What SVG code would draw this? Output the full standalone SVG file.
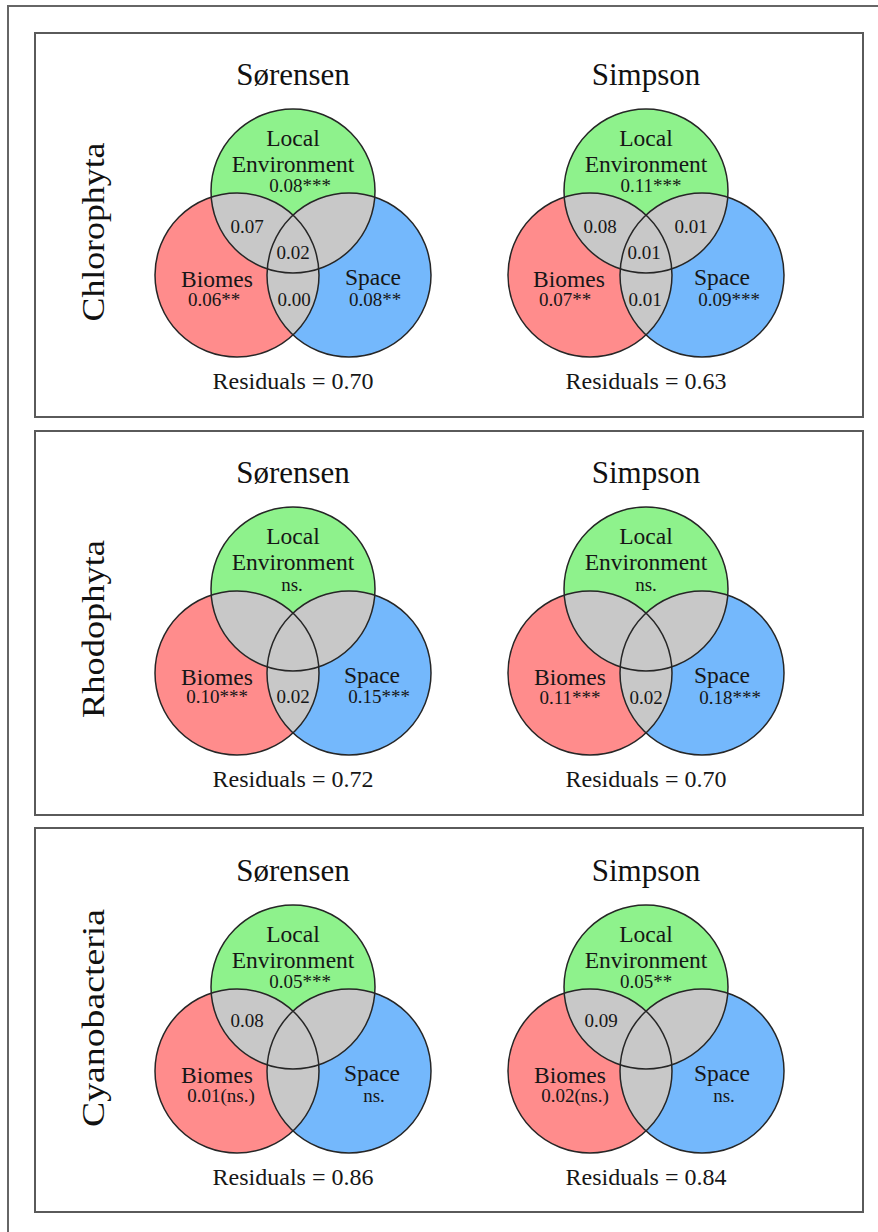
<svg xmlns="http://www.w3.org/2000/svg" width="878" height="1232" viewBox="0 0 878 1232">
<style>
text{font-family:"Liberation Serif","Times New Roman",serif;fill:#161616;text-anchor:middle}
.title{font-size:31px;fill:#111}
.lab{font-size:23.5px}
.num{font-size:19px}
.res{font-size:24px}
.side{font-size:31px;fill:#111}
.frame{fill:none;stroke:#666;stroke-width:2}
.panel{fill:#fff;stroke:#5a5a5a;stroke-width:2}
.g{fill:#8ef28c}
.r{fill:#ff8c8c}
.b{fill:#74b8fc}
.ov{fill:#c8c8c8}
.edge{fill:none;stroke:#262626;stroke-width:1.5}
</style>
<defs>
<clipPath id="clipR"><circle cx="-56" cy="84" r="82"/></clipPath>
<clipPath id="clipB"><circle cx="56" cy="84" r="82"/></clipPath>
<g id="venn">
<circle class="r" cx="-56" cy="84" r="82"/>
<circle class="b" cx="56" cy="84" r="82"/>
<circle class="g" cx="0" cy="0" r="82"/>
<circle class="ov" cx="0" cy="0" r="82" clip-path="url(#clipR)"/>
<circle class="ov" cx="0" cy="0" r="82" clip-path="url(#clipB)"/>
<circle class="ov" cx="-56" cy="84" r="82" clip-path="url(#clipB)"/>
<circle class="edge" cx="-56" cy="84" r="82"/>
<circle class="edge" cx="56" cy="84" r="82"/>
<circle class="edge" cx="0" cy="0" r="82"/>
</g>
</defs>
<rect width="878" height="1232" fill="#fff"/>
<rect class="frame" x="8" y="6" width="900" height="1300"/>

<!-- Panel 1: Chlorophyta -->
<g id="panel-chlorophyta">
<rect class="panel" x="35" y="33" width="828" height="384"/>
<text class="side" transform="translate(104,232) rotate(-90)" textLength="179" lengthAdjust="spacingAndGlyphs">Chlorophyta</text>
<g id="chl-sorensen" transform="translate(293,191)">
<use href="#venn"/>
<text class="title" x="0" y="-106">Sørensen</text>
<text class="lab" x="0" y="-45">Local</text>
<text class="lab" x="0" y="-19">Environment</text>
<text class="num" x="7" y="1">0.08***</text>
<text class="num" x="-46" y="42">0.07</text>
<text class="num" x="0" y="68">0.02</text>
<text class="lab" x="-76" y="96">Biomes</text>
<text class="num" x="-79" y="115">0.06**</text>
<text class="num" x="1" y="115">0.00</text>
<text class="lab" x="80" y="94">Space</text>
<text class="num" x="82" y="115">0.08**</text>
<text class="res" x="0" y="198">Residuals = 0.70</text>
</g>
<g id="chl-simpson" transform="translate(646,191)">
<use href="#venn"/>
<text class="title" x="0" y="-106">Simpson</text>
<text class="lab" x="0" y="-45">Local</text>
<text class="lab" x="0" y="-19">Environment</text>
<text class="num" x="5" y="1">0.11***</text>
<text class="num" x="-46" y="42">0.08</text>
<text class="num" x="45" y="42">0.01</text>
<text class="num" x="-2" y="68">0.01</text>
<text class="lab" x="-77" y="96">Biomes</text>
<text class="num" x="-81" y="115">0.07**</text>
<text class="num" x="-1" y="115">0.01</text>
<text class="lab" x="76" y="94">Space</text>
<text class="num" x="83" y="115">0.09***</text>
<text class="res" x="0" y="198">Residuals = 0.63</text>
</g>
</g>

<!-- Panel 2: Rhodophyta -->
<g id="panel-rhodophyta">
<rect class="panel" x="35" y="431" width="828" height="384"/>
<text class="side" transform="translate(104,629) rotate(-90)" textLength="178" lengthAdjust="spacingAndGlyphs">Rhodophyta</text>
<g id="rho-sorensen" transform="translate(293,589)">
<use href="#venn"/>
<text class="title" x="0" y="-106">Sørensen</text>
<text class="lab" x="0" y="-45">Local</text>
<text class="lab" x="0" y="-19">Environment</text>
<text class="num" x="-1" y="2">ns.</text>
<text class="lab" x="-76" y="96">Biomes</text>
<text class="num" x="-76" y="114">0.10***</text>
<text class="num" x="0" y="114">0.02</text>
<text class="lab" x="79" y="94">Space</text>
<text class="num" x="86" y="114">0.15***</text>
<text class="res" x="0" y="198">Residuals = 0.72</text>
</g>
<g id="rho-simpson" transform="translate(646,589)">
<use href="#venn"/>
<text class="title" x="0" y="-106">Simpson</text>
<text class="lab" x="0" y="-45">Local</text>
<text class="lab" x="0" y="-19">Environment</text>
<text class="num" x="0" y="2">ns.</text>
<text class="lab" x="-76" y="96">Biomes</text>
<text class="num" x="-76" y="115">0.11***</text>
<text class="num" x="0" y="115">0.02</text>
<text class="lab" x="76" y="94">Space</text>
<text class="num" x="84" y="115">0.18***</text>
<text class="res" x="0" y="198">Residuals = 0.70</text>
</g>
</g>

<!-- Panel 3: Cyanobacteria -->
<g id="panel-cyanobacteria">
<rect class="panel" x="35" y="828" width="828" height="384"/>
<text class="side" transform="translate(104,1018) rotate(-90)" textLength="218" lengthAdjust="spacingAndGlyphs">Cyanobacteria</text>
<g id="cya-sorensen" transform="translate(293,987)">
<use href="#venn"/>
<text class="title" x="0" y="-106">Sørensen</text>
<text class="lab" x="0" y="-45">Local</text>
<text class="lab" x="0" y="-19">Environment</text>
<text class="num" x="7" y="1">0.05***</text>
<text class="num" x="-46" y="40">0.08</text>
<text class="lab" x="-76" y="96">Biomes</text>
<text class="num" x="-72" y="115">0.01(ns.)</text>
<text class="lab" x="79" y="94">Space</text>
<text class="num" x="81" y="115">ns.</text>
<text class="res" x="0" y="198">Residuals = 0.86</text>
</g>
<g id="cya-simpson" transform="translate(646,987)">
<use href="#venn"/>
<text class="title" x="0" y="-106">Simpson</text>
<text class="lab" x="0" y="-45">Local</text>
<text class="lab" x="0" y="-19">Environment</text>
<text class="num" x="0" y="1">0.05**</text>
<text class="num" x="-45" y="40">0.09</text>
<text class="lab" x="-76" y="96">Biomes</text>
<text class="num" x="-71" y="115">0.02(ns.)</text>
<text class="lab" x="76" y="94">Space</text>
<text class="num" x="78" y="115">ns.</text>
<text class="res" x="0" y="198">Residuals = 0.84</text>
</g>
</g>
</svg>
